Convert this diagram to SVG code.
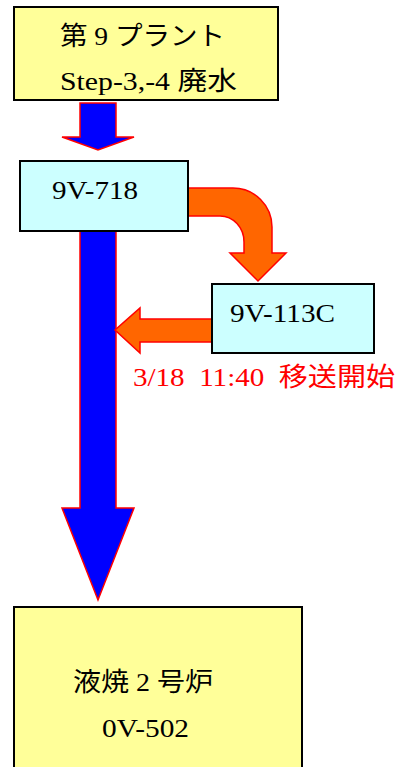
<svg xmlns="http://www.w3.org/2000/svg" width="401" height="767" viewBox="0 0 401 767">
<style>
.box{stroke:#000;stroke-width:2}
.y{fill:#ffff99}
.c{fill:#ccffff}
.blue{fill:#0000ff;stroke:#ff0000;stroke-width:1.5;stroke-linejoin:miter}
.org{fill:#ff6600;stroke:#ff0000;stroke-width:1.5}
</style>
<g id="connectors">
<polygon class="blue" points="80,103 116,103 116,137 134,137 98,150 62,137 80,137"/>
<polygon class="blue" points="80,231 116,231 116,508 134,508 98,600 62,508 80,508"/>
<path class="org" d="M188,188 L233,188 A39,39 0 0 1 272,227 L272,253 L286,253 L258,281 L230,253 L244,253 L244,242 A24,26 0 0 0 220,216 L188,216 Z"/>
<polygon class="org" points="212,319 140,319 140,308 115,330 140,353 140,342 212,342"/>
</g>
<g font-family="Liberation Serif, Noto Sans CJK JP, serif" font-size="26" fill="#000">
<g id="plant9">
<rect class="box y" x="14" y="7" width="264" height="93"/>
<text x="60" y="45" textLength="165" lengthAdjust="spacingAndGlyphs">第 9 プラント</text>
<text x="60" y="90" textLength="177" lengthAdjust="spacingAndGlyphs">Step-3,-4 廃水</text>
</g>
<g id="v718">
<rect class="box c" x="20" y="161" width="168" height="70"/>
<text x="52" y="199" textLength="86" lengthAdjust="spacingAndGlyphs">9V-718</text>
</g>
<g id="v113c">
<rect class="box c" x="212" y="284" width="162" height="69"/>
<text x="230" y="322" textLength="105" lengthAdjust="spacingAndGlyphs">9V-113C</text>
</g>
<text x="133" y="386" fill="#ff0000" xml:space="preserve" textLength="262" lengthAdjust="spacingAndGlyphs">3/18  11:40  移送開始</text>
<g id="ov502">
<rect class="box y" x="14" y="607" width="288" height="170"/>
<text x="73" y="691" textLength="140" lengthAdjust="spacingAndGlyphs">液焼 2 号炉</text>
<text x="102" y="737" textLength="87" lengthAdjust="spacingAndGlyphs">0V-502</text>
</g>
</g>
</svg>
